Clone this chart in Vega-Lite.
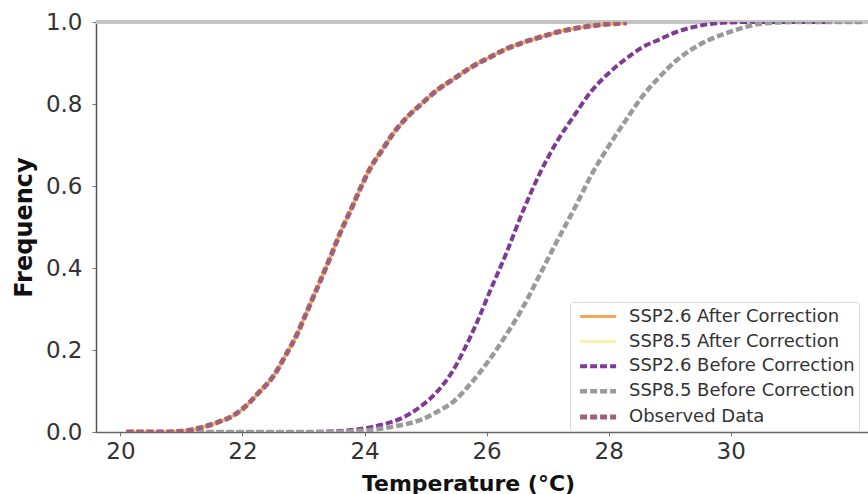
{
  "$schema": "https://vega.github.io/schema/vega-lite/v6.json",
  "width": 772,
  "height": 410,
  "autosize": {"type": "none"},
  "padding": {"left": 96, "top": 22, "right": 0, "bottom": 62},
  "background": "white",
  "config": {
    "view": {"stroke": null},
    "font": "DejaVu Sans",
    "axis": {
      "labelFont": "DejaVu Sans",
      "labelFontSize": 23,
      "labelColor": "#333",
      "titleFont": "DejaVu Sans",
      "titleFontWeight": "bold",
      "titleColor": "#111",
      "domainColor": "#555",
      "domainWidth": 1.5,
      "tickColor": "#777",
      "tickSize": 4,
      "grid": false
    },
    "legend": {
      "orient": "none",
      "legendX": 474,
      "legendY": 280,
      "fillColor": "white",
      "strokeColor": "#d6d6d6",
      "cornerRadius": 3,
      "padding": 4,
      "labelFont": "DejaVu Sans",
      "labelFontSize": 18,
      "labelColor": "#333",
      "symbolType": "M-0.6,0H3.4",
      "symbolSize": 324,
      "symbolStrokeWidth": 2.2,
      "rowPadding": 4.6,
      "labelOffset": 32,
      "labelLimit": 400
    }
  },
  "data": {
    "values": [
      {"series": "SSP8.5 After Correction", "t": 20.1, "p": 0},
      {"series": "SSP8.5 After Correction", "t": 20.6, "p": 0},
      {"series": "SSP8.5 After Correction", "t": 21.0, "p": 0.002},
      {"series": "SSP8.5 After Correction", "t": 21.3, "p": 0.01},
      {"series": "SSP8.5 After Correction", "t": 21.6, "p": 0.024},
      {"series": "SSP8.5 After Correction", "t": 21.8, "p": 0.036},
      {"series": "SSP8.5 After Correction", "t": 22.0, "p": 0.056},
      {"series": "SSP8.5 After Correction", "t": 22.26, "p": 0.095},
      {"series": "SSP8.5 After Correction", "t": 22.5, "p": 0.135},
      {"series": "SSP8.5 After Correction", "t": 22.7, "p": 0.185},
      {"series": "SSP8.5 After Correction", "t": 22.9, "p": 0.24},
      {"series": "SSP8.5 After Correction", "t": 23.06, "p": 0.295},
      {"series": "SSP8.5 After Correction", "t": 23.25, "p": 0.36},
      {"series": "SSP8.5 After Correction", "t": 23.45, "p": 0.43},
      {"series": "SSP8.5 After Correction", "t": 23.6, "p": 0.485},
      {"series": "SSP8.5 After Correction", "t": 23.77, "p": 0.54},
      {"series": "SSP8.5 After Correction", "t": 23.95, "p": 0.6},
      {"series": "SSP8.5 After Correction", "t": 24.1, "p": 0.645},
      {"series": "SSP8.5 After Correction", "t": 24.3, "p": 0.69},
      {"series": "SSP8.5 After Correction", "t": 24.47, "p": 0.728},
      {"series": "SSP8.5 After Correction", "t": 24.7, "p": 0.768},
      {"series": "SSP8.5 After Correction", "t": 24.93, "p": 0.8},
      {"series": "SSP8.5 After Correction", "t": 25.2, "p": 0.835},
      {"series": "SSP8.5 After Correction", "t": 25.48, "p": 0.863},
      {"series": "SSP8.5 After Correction", "t": 25.75, "p": 0.89},
      {"series": "SSP8.5 After Correction", "t": 26.04, "p": 0.913},
      {"series": "SSP8.5 After Correction", "t": 26.3, "p": 0.933},
      {"series": "SSP8.5 After Correction", "t": 26.6, "p": 0.95},
      {"series": "SSP8.5 After Correction", "t": 26.9, "p": 0.964},
      {"series": "SSP8.5 After Correction", "t": 27.15, "p": 0.975},
      {"series": "SSP8.5 After Correction", "t": 27.4, "p": 0.983},
      {"series": "SSP8.5 After Correction", "t": 27.7, "p": 0.99},
      {"series": "SSP8.5 After Correction", "t": 28.0, "p": 0.995},
      {"series": "SSP8.5 After Correction", "t": 28.3, "p": 0.998},

      {"series": "SSP2.6 After Correction", "t": 20.1, "p": 0},
      {"series": "SSP2.6 After Correction", "t": 20.6, "p": 0},
      {"series": "SSP2.6 After Correction", "t": 21.0, "p": 0.002},
      {"series": "SSP2.6 After Correction", "t": 21.3, "p": 0.01},
      {"series": "SSP2.6 After Correction", "t": 21.6, "p": 0.024},
      {"series": "SSP2.6 After Correction", "t": 21.8, "p": 0.036},
      {"series": "SSP2.6 After Correction", "t": 22.0, "p": 0.056},
      {"series": "SSP2.6 After Correction", "t": 22.26, "p": 0.095},
      {"series": "SSP2.6 After Correction", "t": 22.5, "p": 0.135},
      {"series": "SSP2.6 After Correction", "t": 22.7, "p": 0.185},
      {"series": "SSP2.6 After Correction", "t": 22.9, "p": 0.24},
      {"series": "SSP2.6 After Correction", "t": 23.06, "p": 0.295},
      {"series": "SSP2.6 After Correction", "t": 23.25, "p": 0.36},
      {"series": "SSP2.6 After Correction", "t": 23.45, "p": 0.43},
      {"series": "SSP2.6 After Correction", "t": 23.6, "p": 0.485},
      {"series": "SSP2.6 After Correction", "t": 23.77, "p": 0.54},
      {"series": "SSP2.6 After Correction", "t": 23.95, "p": 0.6},
      {"series": "SSP2.6 After Correction", "t": 24.1, "p": 0.645},
      {"series": "SSP2.6 After Correction", "t": 24.3, "p": 0.69},
      {"series": "SSP2.6 After Correction", "t": 24.47, "p": 0.728},
      {"series": "SSP2.6 After Correction", "t": 24.7, "p": 0.768},
      {"series": "SSP2.6 After Correction", "t": 24.93, "p": 0.8},
      {"series": "SSP2.6 After Correction", "t": 25.2, "p": 0.835},
      {"series": "SSP2.6 After Correction", "t": 25.48, "p": 0.863},
      {"series": "SSP2.6 After Correction", "t": 25.75, "p": 0.89},
      {"series": "SSP2.6 After Correction", "t": 26.04, "p": 0.913},
      {"series": "SSP2.6 After Correction", "t": 26.3, "p": 0.933},
      {"series": "SSP2.6 After Correction", "t": 26.6, "p": 0.95},
      {"series": "SSP2.6 After Correction", "t": 26.9, "p": 0.964},
      {"series": "SSP2.6 After Correction", "t": 27.15, "p": 0.975},
      {"series": "SSP2.6 After Correction", "t": 27.4, "p": 0.983},
      {"series": "SSP2.6 After Correction", "t": 27.7, "p": 0.99},
      {"series": "SSP2.6 After Correction", "t": 28.0, "p": 0.995},
      {"series": "SSP2.6 After Correction", "t": 28.3, "p": 0.998},

      {"series": "SSP2.6 Before Correction", "t": 20.1, "p": 0},
      {"series": "SSP2.6 Before Correction", "t": 21.0, "p": 0},
      {"series": "SSP2.6 Before Correction", "t": 22.0, "p": 0},
      {"series": "SSP2.6 Before Correction", "t": 23.0, "p": 0},
      {"series": "SSP2.6 Before Correction", "t": 23.5, "p": 0.002},
      {"series": "SSP2.6 Before Correction", "t": 23.8, "p": 0.005},
      {"series": "SSP2.6 Before Correction", "t": 24.2, "p": 0.015},
      {"series": "SSP2.6 Before Correction", "t": 24.64, "p": 0.036},
      {"series": "SSP2.6 Before Correction", "t": 24.9, "p": 0.06},
      {"series": "SSP2.6 Before Correction", "t": 25.2, "p": 0.1},
      {"series": "SSP2.6 Before Correction", "t": 25.45, "p": 0.15},
      {"series": "SSP2.6 Before Correction", "t": 25.65, "p": 0.206},
      {"series": "SSP2.6 Before Correction", "t": 25.85, "p": 0.27},
      {"series": "SSP2.6 Before Correction", "t": 26.04, "p": 0.338},
      {"series": "SSP2.6 Before Correction", "t": 26.32, "p": 0.435},
      {"series": "SSP2.6 Before Correction", "t": 26.6, "p": 0.54},
      {"series": "SSP2.6 Before Correction", "t": 26.87, "p": 0.63},
      {"series": "SSP2.6 Before Correction", "t": 27.16, "p": 0.71},
      {"series": "SSP2.6 Before Correction", "t": 27.45, "p": 0.775},
      {"series": "SSP2.6 Before Correction", "t": 27.71, "p": 0.83},
      {"series": "SSP2.6 Before Correction", "t": 28.0, "p": 0.875},
      {"series": "SSP2.6 Before Correction", "t": 28.28, "p": 0.91},
      {"series": "SSP2.6 Before Correction", "t": 28.55, "p": 0.938},
      {"series": "SSP2.6 Before Correction", "t": 28.84, "p": 0.958},
      {"series": "SSP2.6 Before Correction", "t": 29.1, "p": 0.975},
      {"series": "SSP2.6 Before Correction", "t": 29.4, "p": 0.988},
      {"series": "SSP2.6 Before Correction", "t": 29.85, "p": 0.998},
      {"series": "SSP2.6 Before Correction", "t": 30.3, "p": 1.0},
      {"series": "SSP2.6 Before Correction", "t": 31.0, "p": 1.0},
      {"series": "SSP2.6 Before Correction", "t": 31.6, "p": 1.0},

      {"series": "SSP8.5 Before Correction", "t": 20.1, "p": 0},
      {"series": "SSP8.5 Before Correction", "t": 22.0, "p": 0},
      {"series": "SSP8.5 Before Correction", "t": 23.0, "p": 0},
      {"series": "SSP8.5 Before Correction", "t": 23.6, "p": 0.001},
      {"series": "SSP8.5 Before Correction", "t": 24.1, "p": 0.005},
      {"series": "SSP8.5 Before Correction", "t": 24.5, "p": 0.014},
      {"series": "SSP8.5 Before Correction", "t": 24.93, "p": 0.03},
      {"series": "SSP8.5 Before Correction", "t": 25.2, "p": 0.05},
      {"series": "SSP8.5 Before Correction", "t": 25.48, "p": 0.077},
      {"series": "SSP8.5 Before Correction", "t": 25.75, "p": 0.12},
      {"series": "SSP8.5 Before Correction", "t": 26.04, "p": 0.175},
      {"series": "SSP8.5 Before Correction", "t": 26.3, "p": 0.232},
      {"series": "SSP8.5 Before Correction", "t": 26.6, "p": 0.305},
      {"series": "SSP8.5 Before Correction", "t": 26.87, "p": 0.383},
      {"series": "SSP8.5 Before Correction", "t": 27.16, "p": 0.467},
      {"series": "SSP8.5 Before Correction", "t": 27.45, "p": 0.548},
      {"series": "SSP8.5 Before Correction", "t": 27.71, "p": 0.625},
      {"series": "SSP8.5 Before Correction", "t": 28.0, "p": 0.697},
      {"series": "SSP8.5 Before Correction", "t": 28.28, "p": 0.76},
      {"series": "SSP8.5 Before Correction", "t": 28.55, "p": 0.818},
      {"series": "SSP8.5 Before Correction", "t": 28.84, "p": 0.867},
      {"series": "SSP8.5 Before Correction", "t": 29.1, "p": 0.905},
      {"series": "SSP8.5 Before Correction", "t": 29.4, "p": 0.937},
      {"series": "SSP8.5 Before Correction", "t": 29.7, "p": 0.96},
      {"series": "SSP8.5 Before Correction", "t": 29.97, "p": 0.975},
      {"series": "SSP8.5 Before Correction", "t": 30.25, "p": 0.988},
      {"series": "SSP8.5 Before Correction", "t": 30.5, "p": 0.996},
      {"series": "SSP8.5 Before Correction", "t": 31.05, "p": 1.0},
      {"series": "SSP8.5 Before Correction", "t": 31.6, "p": 1.0},
      {"series": "SSP8.5 Before Correction", "t": 32.2, "p": 1.0},

      {"series": "Observed Data", "t": 20.1, "p": 0},
      {"series": "Observed Data", "t": 20.6, "p": 0},
      {"series": "Observed Data", "t": 21.0, "p": 0.002},
      {"series": "Observed Data", "t": 21.3, "p": 0.01},
      {"series": "Observed Data", "t": 21.6, "p": 0.024},
      {"series": "Observed Data", "t": 21.8, "p": 0.036},
      {"series": "Observed Data", "t": 22.0, "p": 0.056},
      {"series": "Observed Data", "t": 22.26, "p": 0.095},
      {"series": "Observed Data", "t": 22.5, "p": 0.135},
      {"series": "Observed Data", "t": 22.7, "p": 0.185},
      {"series": "Observed Data", "t": 22.9, "p": 0.24},
      {"series": "Observed Data", "t": 23.06, "p": 0.295},
      {"series": "Observed Data", "t": 23.25, "p": 0.36},
      {"series": "Observed Data", "t": 23.45, "p": 0.43},
      {"series": "Observed Data", "t": 23.6, "p": 0.485},
      {"series": "Observed Data", "t": 23.77, "p": 0.54},
      {"series": "Observed Data", "t": 23.95, "p": 0.6},
      {"series": "Observed Data", "t": 24.1, "p": 0.645},
      {"series": "Observed Data", "t": 24.3, "p": 0.69},
      {"series": "Observed Data", "t": 24.47, "p": 0.728},
      {"series": "Observed Data", "t": 24.7, "p": 0.768},
      {"series": "Observed Data", "t": 24.93, "p": 0.8},
      {"series": "Observed Data", "t": 25.2, "p": 0.835},
      {"series": "Observed Data", "t": 25.48, "p": 0.863},
      {"series": "Observed Data", "t": 25.75, "p": 0.89},
      {"series": "Observed Data", "t": 26.04, "p": 0.913},
      {"series": "Observed Data", "t": 26.3, "p": 0.933},
      {"series": "Observed Data", "t": 26.6, "p": 0.95},
      {"series": "Observed Data", "t": 26.9, "p": 0.964},
      {"series": "Observed Data", "t": 27.15, "p": 0.975},
      {"series": "Observed Data", "t": 27.4, "p": 0.983},
      {"series": "Observed Data", "t": 27.7, "p": 0.99},
      {"series": "Observed Data", "t": 28.0, "p": 0.995},
      {"series": "Observed Data", "t": 28.3, "p": 0.998}
    ]
  },
  "layer": [
    {
      "mark": {"type": "rule", "color": "#c4c4c4", "strokeWidth": 2.5},
      "encoding": {"y": {"datum": 1, "type": "quantitative"}}
    },
    {
      "mark": {"type": "line", "clip": true, "interpolate": "monotone"},
      "encoding": {
        "x": {
          "field": "t",
          "type": "quantitative",
          "scale": {"domain": [19.6, 32.25], "nice": false, "zero": false},
          "axis": {
            "title": "Temperature (°C)",
            "titleFontSize": 22,
            "values": [20, 22, 24, 26, 28, 30],
            "labelPadding": 4,
            "titlePadding": 10,
            "titleX": 372,
            "domainColor": "#666"
          }
        },
        "y": {
          "field": "p",
          "type": "quantitative",
          "scale": {"domain": [0, 1], "nice": false},
          "axis": {
            "title": "Frequency",
            "titleFontSize": 24,
            "values": [0, 0.2, 0.4, 0.6, 0.8, 1.0],
            "format": ".1f",
            "labelPadding": 10,
            "titlePadding": 9
          }
        },
        "color": {
          "field": "series",
          "type": "nominal",
          "scale": {
            "domain": ["SSP2.6 After Correction", "SSP8.5 After Correction", "SSP2.6 Before Correction", "SSP8.5 Before Correction", "Observed Data"],
            "range": ["#f2a65a", "#fcefb4", "#7e3a96", "#9a9a9a", "#a0607a"]
          },
          "legend": {"title": null}
        },
        "strokeDash": {
          "field": "series",
          "type": "nominal",
          "scale": {
            "domain": ["SSP2.6 After Correction", "SSP8.5 After Correction", "SSP2.6 Before Correction", "SSP8.5 Before Correction", "Observed Data"],
            "range": [[1, 0], [1, 0], [7, 3], [7, 3], [7, 3]]
          },
          "legend": {"title": null}
        },
        "strokeWidth": {
          "field": "series",
          "type": "nominal",
          "scale": {
            "domain": ["SSP2.6 After Correction", "SSP8.5 After Correction", "SSP2.6 Before Correction", "SSP8.5 Before Correction", "Observed Data"],
            "range": [3, 5, 2, 1.6, 1.7]
          },
          "legend": null
        }
      }
    }
  ]
}
